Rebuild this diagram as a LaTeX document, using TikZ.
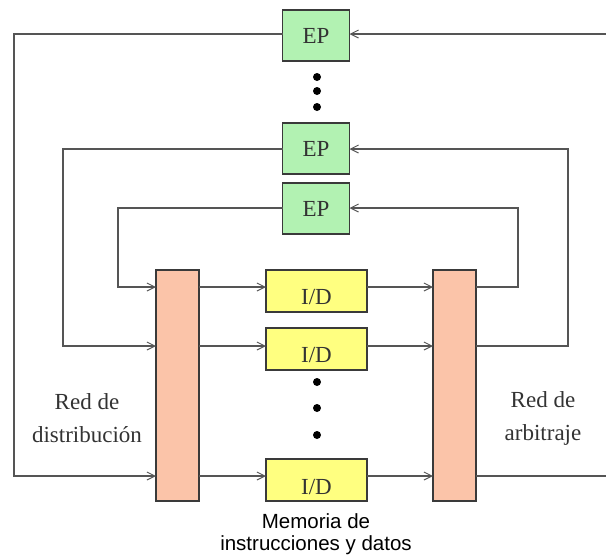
\documentclass[tikz,border=0pt]{standalone}
\usepackage{fontspec}
\setmainfont{Liberation Serif}
\setsansfont{Liberation Sans}
\usetikzlibrary{arrows.meta}
\definecolor{epgreen}{HTML}{B2F2B2}
\definecolor{netpink}{HTML}{FBC4A9}
\definecolor{idyellow}{HTML}{FFFF80}
\definecolor{linegray}{HTML}{555555}
\definecolor{edgegray}{HTML}{3A3A3A}
\definecolor{txtgray}{HTML}{333333}
\begin{document}
\begin{tikzpicture}[x=1pt,y=-1pt,
  every node/.style={inner sep=0pt,outer sep=0pt},
  epbox/.style={draw=edgegray,line width=1.1pt,fill=epgreen,minimum width=67pt,minimum height=51pt,font=\fontsize{23}{23}\selectfont,text=txtgray},
  idbox/.style={draw=edgegray,line width=1.1pt,fill=idyellow,minimum width=101pt,minimum height=42pt},
  idtext/.style={font=\fontsize{23}{23}\selectfont,text=txtgray},
  netbox/.style={draw=edgegray,line width=1.1pt,fill=netpink,minimum width=43pt,minimum height=231pt},
  wire/.style={draw=linegray,line width=1.2pt,-{Straight Barb[length=8pt,width=8pt,line width=1pt]}},
  dot/.style={circle,fill=black,minimum size=8pt},
  lbl/.style={align=center,font=\fontsize{23}{33}\selectfont,text=txtgray},
  memlbl/.style={align=center,font=\sffamily\fontsize{20.5}{22}\selectfont,text=black}]
\useasboundingbox (0,0) rectangle (606,555);
\fill[white] (0,0) rectangle (606,555);

% EP boxes
\node[epbox] (ep1) at (316,35.5) {EP};
\node[epbox] (ep2) at (316,148.5) {EP};
\node[epbox] (ep3) at (316,208.5) {EP};

% networks
\node[netbox] (dist) at (177.5,385.5) {};
\node[netbox] (arb) at (454.5,385.5) {};

% I/D boxes
\node[idbox] (id1) at (316.5,291) {};
\node[idbox] (id2) at (316.5,349) {};
\node[idbox] (id3) at (316.5,480) {};
\node[idtext] at (316.5,297) {I/D};
\node[idtext] at (316.5,355) {I/D};
\node[idtext] at (316.5,487) {I/D};

% dots
\node[dot] (d1) at (317,77) {};
\node[dot] (d2) at (317,91) {};
\node[dot] (d3) at (317,107) {};
\node[dot] (d4) at (317,382) {};
\node[dot] (d5) at (317,408) {};
\node[dot] (d6) at (317,435) {};

% coordinates for wire rows
\coordinate (r1) at (0,287);
\coordinate (r2) at (0,346);
\coordinate (r3) at (0,476);

% feedback wires right side (arbitration -> EP)
\draw[wire] (arb.east |- r3) -- (608,476) -- (608,34) -- (ep1.east |- 0,34);
\draw[wire] (arb.east |- r2) -- (568,346) -- (568,149) -- (ep2.east |- 0,149);
\draw[wire] (arb.east |- r1) -- (518,287) -- (518,208) -- (ep3.east |- 0,208);

% wires left side (EP -> distribution)
\draw[wire] (ep1.west |- 0,34) -- (14,34) -- (14,476) -- (dist.west |- r3);
\draw[wire] (ep2.west |- 0,149) -- (63,149) -- (63,346) -- (dist.west |- r2);
\draw[wire] (ep3.west |- 0,208) -- (118,208) -- (118,287) -- (dist.west |- r1);

% distribution -> I/D
\draw[wire] (dist.east |- r1) -- (id1.west |- r1);
\draw[wire] (dist.east |- r2) -- (id2.west |- r2);
\draw[wire] (dist.east |- r3) -- (id3.west |- r3);

% I/D -> arbitration
\draw[wire] (id1.east |- r1) -- (arb.west |- r1);
\draw[wire] (id2.east |- r2) -- (arb.west |- r2);
\draw[wire] (id3.east |- r3) -- (arb.west |- r3);

% labels
\node[lbl] (ldist) at (87,418) {Red de\\distribución};
\node[lbl] (larb) at (543,418) {Red de\\arbitraje};
\node[memlbl] (lmem) at (316,534) {Memoria de\\instrucciones y datos};
\end{tikzpicture}
\end{document}
